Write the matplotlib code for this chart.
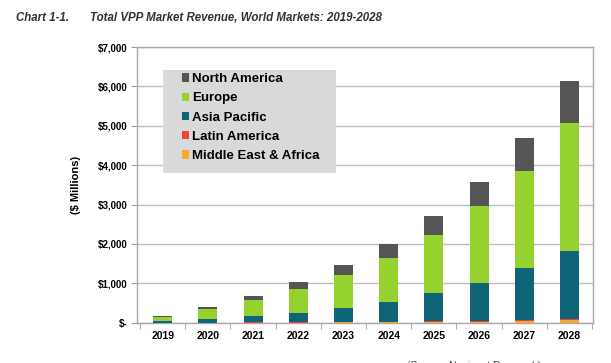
import matplotlib.pyplot as plt
import matplotlib.patches as mpatches
import numpy as np

years = ['2019', '2020', '2021', '2022', '2023', '2024', '2025', '2026', '2027', '2028']
mea = [1, 2, 4, 5, 10, 15, 20, 25, 40, 70]
latam = [1, 2, 3, 5, 10, 15, 20, 15, 25, 20]
asia = [37, 90, 155, 229, 346, 488, 706, 960, 1316, 1740]
europe = [97, 254, 414, 609, 837, 1117, 1484, 1963, 2478, 3235]
namerica = [41, 51, 102, 178, 254, 363, 470, 617, 831, 1080]

series = [
    ('Middle East & Africa', mea, '#F7A92B'),
    ('Latin America', latam, '#E8453C'),
    ('Asia Pacific', asia, '#0F6577'),
    ('Europe', europe, '#95D12F'),
    ('North America', namerica, '#555556'),
]

plt.rcParams['font.family'] = ['Liberation Sans', 'DejaVu Sans']

fig = plt.figure(figsize=(6.11, 3.63), dpi=100)
ax = fig.add_axes([0.224, 0.111, 0.7465, 0.7595])

x = np.arange(len(years))
bottom = np.zeros(len(years))
handles = {}
for name, vals, col in series:
    b = ax.bar(x, vals, 0.42, bottom=bottom, color=col, zorder=3, label=name)
    handles[name] = b
    bottom = bottom + np.array(vals)

ax.set_xlim(-0.57, 9.52)
ax.set_ylim(0, 7000)
ax.set_yticks(range(0, 7001, 1000))
ax.set_yticklabels(['$-'] + ['${:,}'.format(v) for v in range(1000, 7001, 1000)],
                   fontsize=7, fontweight='bold')
ax.set_xticks(x)
ax.set_xticklabels(years, fontsize=7.5, fontweight='bold')
ax.set_xticks(np.arange(-0.5, 10, 1), minor=True)
ax.tick_params(axis='x', which='major', length=0, pad=6)
ax.tick_params(axis='x', which='minor', length=4, color='#A0A0A0')
ax.tick_params(axis='y', length=4, color='#A0A0A0', pad=3)
ax.grid(axis='y', color='#BDBDBD', linewidth=1, zorder=0)
for s in ax.spines.values():
    s.set_color('#A8A8A8')
    s.set_linewidth(1)

ax.set_ylabel('($ Millions)', fontsize=8, fontweight='bold', labelpad=12)

# grey legend box drawn by hand (wide side padding)
box = mpatches.Rectangle((0.057, 0.543), 0.379, 0.374, transform=ax.transAxes,
                         facecolor='#D9D9D9', edgecolor='none', zorder=4)
ax.add_patch(box)

order = ['North America', 'Europe', 'Asia Pacific', 'Latin America', 'Middle East & Africa']
leg = ax.legend([handles[n] for n in order], order, loc='upper left',
                bbox_to_anchor=(0.098, 0.905), frameon=False,
                prop={'weight': 'bold', 'size': 9.5}, handlelength=0.58,
                handleheight=0.58, handletextpad=0.2, labelspacing=0.55,
                borderpad=0, borderaxespad=0)
leg.set_zorder(5)

fig.text(0.026, 0.95, 'Chart 1-1.', fontsize=8.3, fontweight='bold',
         style='italic', color='#333333', va='center')
fig.text(0.147, 0.95, 'Total VPP Market Revenue, World Markets: 2019-2028',
         fontsize=8.3, fontweight='bold', style='italic', color='#333333', va='center')
fig.text(0.666, 0.005, '(Source: Navigant Research)', fontsize=7.5,
         color='#444444', va='top')

fig.savefig('out.png', dpi=100)
